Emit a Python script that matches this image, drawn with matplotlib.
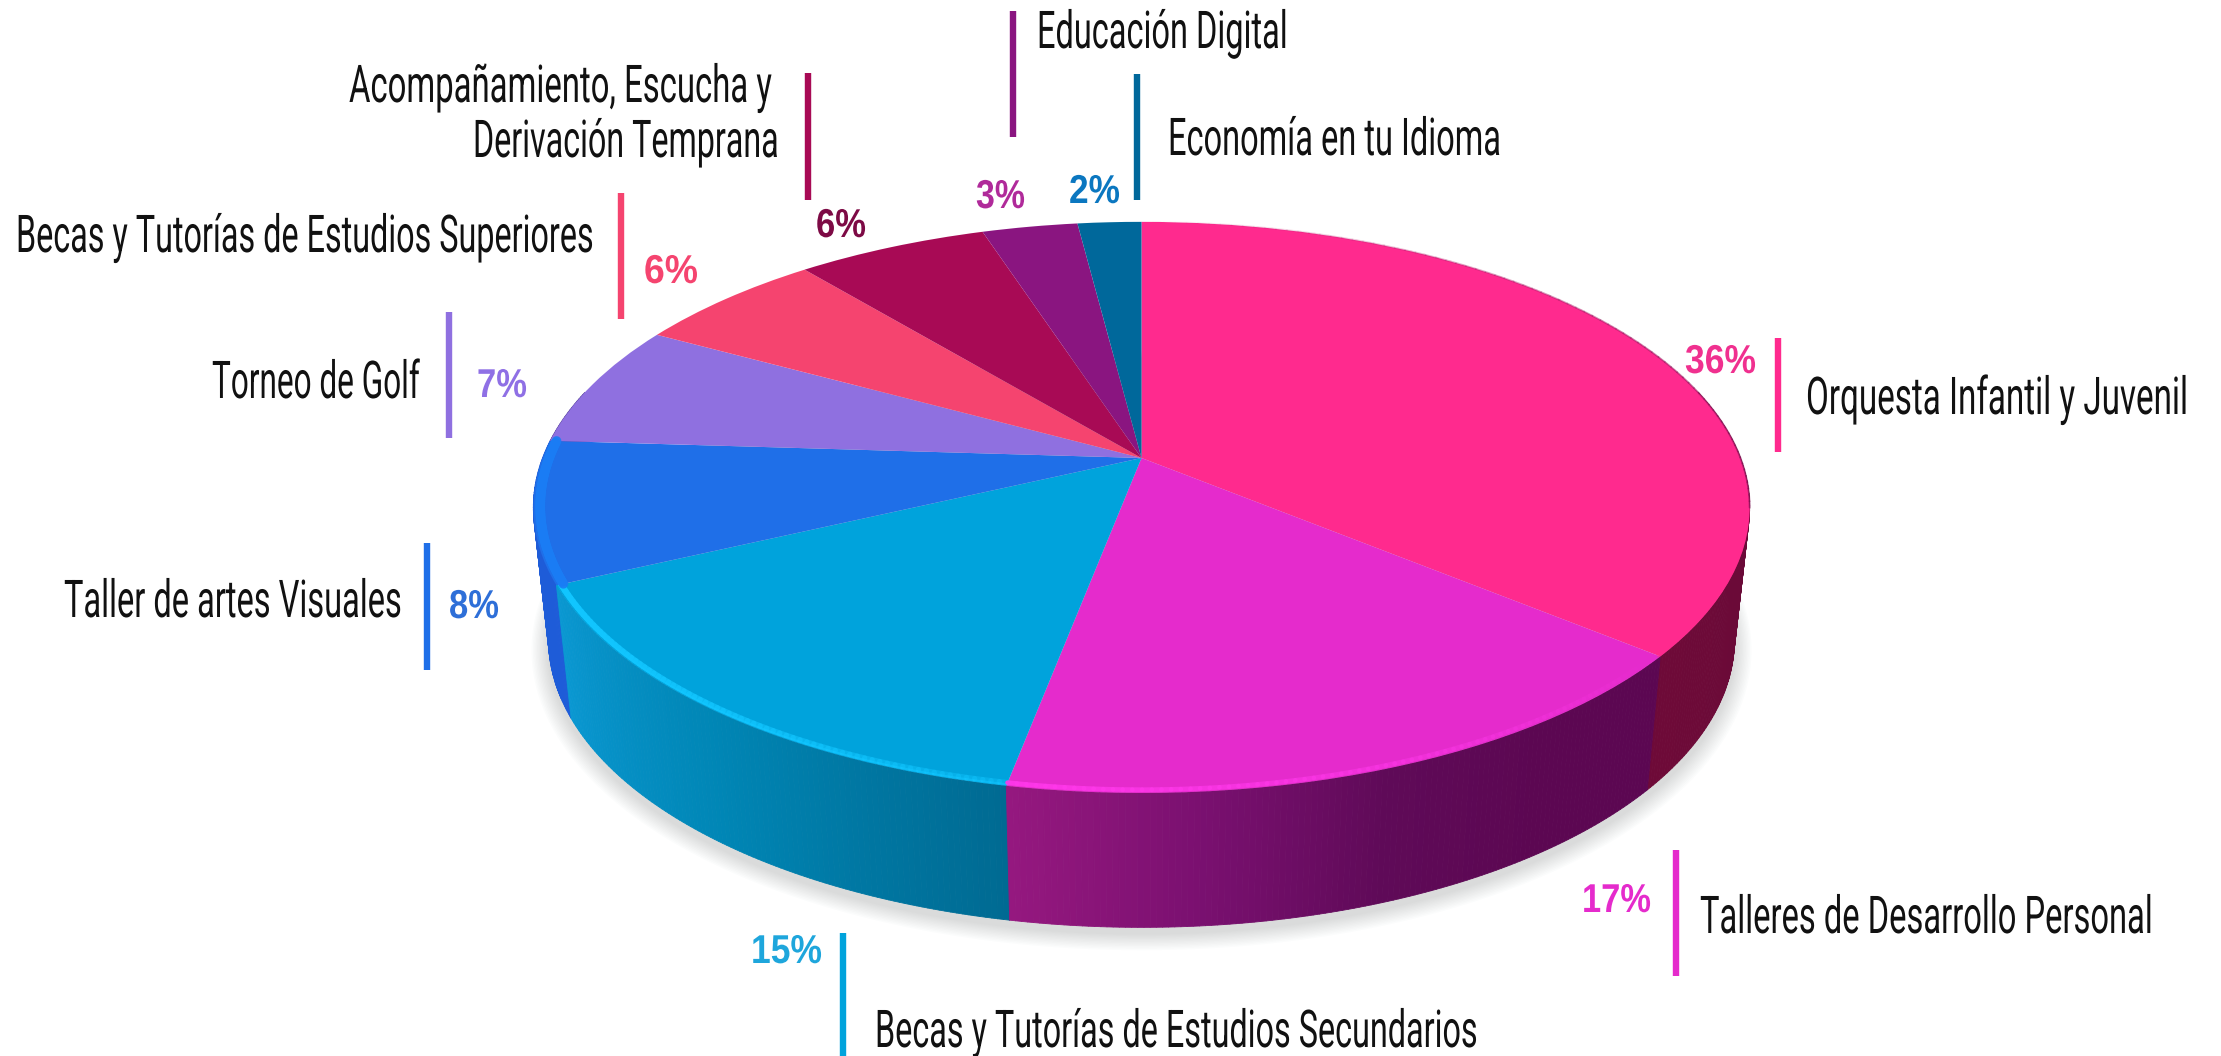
import numpy as np
import matplotlib
matplotlib.use("Agg")
import matplotlib.pyplot as plt
from matplotlib.collections import LineCollection, PolyCollection
from matplotlib.colors import LinearSegmentedColormap, to_rgba
from matplotlib.patheffects import AbstractPathEffect
from matplotlib.transforms import Affine2D, Transform

# data, clockwise from the top
programas = ["Orquesta Infantil y Juvenil", "Talleres de Desarrollo Personal",
             "Becas y Tutorías de Estudios Secundarios", "Taller de artes Visuales",
             "Torneo de Golf", "Becas y Tutorías de Estudios Superiores",
             "Acompañamiento, Escucha y\nDerivación Temprana", "Educación Digital",
             "Economía en tu Idioma"]
porcentajes = [36, 17, 15, 8, 7, 6, 6, 3, 2]

colores = ["#ff2a8e", "#e52bcc", "#00a3dc", "#1f6fe8", "#8f70e0",
           "#f5446f", "#a80a55", "#8a1580", "#00689b"]
colores_pct = ["#f0308f", "#e52bcc", "#1ea6dc", "#2e6fd8", "#8f70e5",
               "#f5446f", "#7d0a45", "#b02a9a", "#0b77c0"]
# side wall colours, from the left end of each slice to the right end
colores_pared = [["#6e0a38", "#5c0a3a"], ["#95187f", "#7a1070", "#5f0a58", "#5c0752", "#5c0752"],
                 ["#0a98d2", "#0086b5", "#006a92"], ["#1e5cd8", "#1e5cd8"],
                 ["#5a44a0", "#5a44a0"], ["#a02a48", "#a02a48"], ["#6a0635", "#6a0635"],
                 ["#55104e", "#55104e"], ["#004060", "#004060"]]

# layout in picture pixels
# label: text lines as (left x, right x, baseline y)
pos_texto = [[(1806, 2188, 414)], [(1700, 2153, 933)], [(875, 1478, 1047)], [(64, 402, 617)],
             [(212, 420, 398)], [(16, 594, 252)],
             [(349, 772, 102), (473, 779, 157)], [(1037, 1288, 48)], [(1168, 1501, 155)]]
pos_pct = [(1685, 1756, 373), (1582, 1651, 912), (751, 822, 963), (449, 499, 618),
           (477, 527, 397), (644, 698, 283), (816, 866, 237), (976, 1025, 208), (1069, 1120, 203)]
pos_barra = [(1778, 338, 452), (1676, 850, 976), (843, 933, 1056), (427, 543, 670),
             (449, 312, 438), (621, 193, 319), (808, 73, 200), (1013, 11, 137), (1137, 74, 200)]


class Perspectiva(Transform):
    # unit circle of the pie -> picture pixels
    input_dims = 2
    output_dims = 2

    def __init__(self, cx, cy, w, h, k=0.173):
        super().__init__()
        self.cx, self.cy, self.w, self.h, self.k = cx, cy, w, h, k

    def transform_non_affine(self, values):
        v = np.asarray(values, float)
        d = 1 + self.k * v[:, 1]
        return np.column_stack([self.cx + self.w * v[:, 0] / d, self.cy - self.h * v[:, 1] / d])


class Alto(AbstractPathEffect):
    # the label font is a tall condensed one, stretch glyphs upward from the baseline
    def __init__(self, sy):
        super().__init__()
        self.sy = sy

    def draw_path(self, renderer, gc, tpath, affine, rgbFace=None):
        renderer.draw_path(gc, tpath, Affine2D().scale(1, self.sy) + affine, rgbFace)


def circulo(ang, r=1.0):
    a = np.radians(ang)
    return np.column_stack([r * np.cos(a), r * np.sin(a)])


cara = Perspectiva(1141.5, 458, 599, 277)
base = Perspectiva(1141.5, 590, 584, 279)

fig = plt.figure(figsize=(22.21, 10.56), dpi=100, facecolor="white")
ax = fig.add_axes([0, 0, 1, 1])

wedges, _ = ax.pie(porcentajes, colors=colores, startangle=90, counterclock=False,
                   wedgeprops={"linewidth": 0, "clip_on": False})
ax.set_aspect("auto")
ax.set_xlim(0, 2221)
ax.set_ylim(1056, 0)
ax.axis("off")

for w in wedges:
    w.set_transform(cara + ax.transData)
    w.set_zorder(5)

# soft shadow under the cake
todo = circulo(np.linspace(0, 360, 361))
for s in range(24, 0, -2):
    sombra = Perspectiva(1141.5, 596 + s * 0.1, 584 + s * 0.7, 279 + s * 0.5)
    ax.fill(*sombra.transform(todo).T, color="#7c8684", alpha=0.024, lw=0, zorder=1)

# side wall, back to front
quads, caras_color, prof = [], [], []
for w, pared in zip(wedges, colores_pared):
    cmap = LinearSegmentedColormap.from_list("pared", pared)
    angs = np.arange(w.theta1, w.theta2 + 0.5, 0.5)
    angs[-1] = w.theta2
    for i in range(len(angs) - 1):
        par = circulo(angs[i:i + 2])
        if par[:, 1].max() > 0.25:
            continue
        a = cara.transform(par)
        b = base.transform(par)
        quads.append([a[0], a[1], b[1], b[0]])
        caras_color.append(cmap(i / max(len(angs) - 2, 1)))
        prof.append(par[:, 1].mean())
orden = np.argsort(prof)[::-1]
ax.add_collection(PolyCollection([quads[i] for i in orden],
                                 facecolors=[caras_color[i] for i in orden],
                                 edgecolors=[caras_color[i] for i in orden],
                                 linewidths=0.6, zorder=3))


def borde(indice, color, ancho, inicio=None, fin=None, a0=1.0, a1=1.0, r=0.992):
    # bevel along the rim, alpha goes from a0 to a1 in the clockwise direction
    w = wedges[indice]
    hi = w.theta2 if inicio is None else inicio
    lo = w.theta1 if fin is None else fin
    angs = np.linspace(hi, lo, 80)
    xy = cara.transform(circulo(angs, r))
    segs = np.stack([xy[:-1], xy[1:]], axis=1)
    cols = [to_rgba(color, a) for a in np.linspace(a0, a1, len(segs))]
    ax.add_collection(LineCollection(segs, colors=cols, linewidths=ancho, zorder=6,
                                     capstyle="round"))


borde(2, "#12c6ff", 4.0, a0=0.35, a1=0.95)
borde(2, "#12c6ff", 1.5, a0=0.5, a1=1.0, r=0.996)
borde(1, "#ff38ea", 3.4, a0=0.0, a1=0.9)
borde(3, "#1a7df5", 7, a0=0.9, a1=0.9, r=0.989)
borde(0, "#ff2a8e", 2.5, a0=0.0, a1=0.5, r=0.997)
borde(0, "#7a1050", 1.3, inicio=90, fin=-10, a0=0.0, a1=0.6, r=1.0)

# bars, labels and percentages
renderer = fig.canvas.get_renderer()


def texto(s, izq, der, y, alto, **kw):
    # font size from the width in the picture, then stretched up to the wanted height
    t = ax.text(izq, y, s, ha="left", va="baseline", zorder=8, fontsize=alto, **kw)
    f = (der - izq) / t.get_window_extent(renderer).width
    t.set_fontsize(alto * f)
    t.set_path_effects([Alto(1 / f)])
    return t


for i, nombre in enumerate(programas):
    x, y0, y1 = pos_barra[i]
    ax.plot([x, x], [y0, y1], color=colores[i], lw=4.6, solid_capstyle="butt", zorder=7,
            clip_on=False)
    for linea, (izq, der, y) in zip(nombre.split("\n"), pos_texto[i]):
        texto(linea, izq, der, y, 37.5, family="Roboto", color="#111111")
    izq, der, y = pos_pct[i]
    texto(f"{porcentajes[i]}%", izq, der, y, 29, family="Liberation Sans",
          fontweight="bold", color=colores_pct[i])

fig.savefig("out.png", dpi=100, facecolor="white")
